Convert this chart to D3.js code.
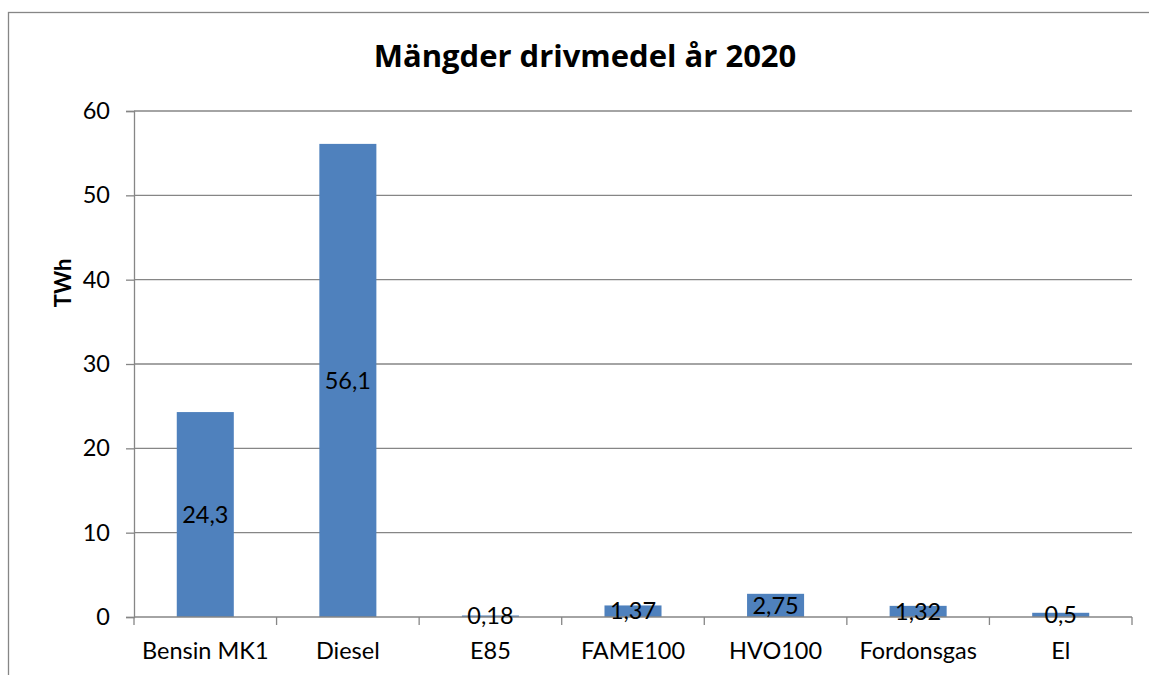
<!DOCTYPE html>
<html>
<head>
<meta charset="utf-8">
<script src="https://cdn.jsdelivr.net/npm/d3@7"></script>
<style>
  body { margin: 0; background: #fff; }
  text { font-family: Lato, "Open Sans", sans-serif; fill: #000; }
</style>
</head>
<body>
<div id="chart"></div>
<script>
// chart data
var categories = ["Bensin MK1", "Diesel", "E85", "FAME100", "HVO100", "Fordonsgas", "El"];
var values = [24.3, 56.1, 0.18, 1.37, 2.75, 1.32, 0.5];
var yTicks = [0, 10, 20, 30, 40, 50, 60];

var svgWidth = 1149;
var svgHeight = 675;

var margin = {
  top: 111,
  right: 17,
  bottom: 58,
  left: 134
};

var width = svgWidth - margin.left - margin.right;
var height = svgHeight - margin.top - margin.bottom;
var labelSize = "23.5px";

var svg = d3
  .select("#chart")
  .append("svg")
  .attr("width", svgWidth)
  .attr("height", svgHeight);

// outer chart border (runs off the right and bottom edge)
svg.append("rect")
  .attr("x", 8.5)
  .attr("y", 12.5)
  .attr("width", 1200)
  .attr("height", 700)
  .attr("fill", "none")
  .attr("stroke", "#868686")
  .attr("stroke-width", 1.3);

// title
svg.append("text")
  .attr("x", 585)
  .attr("y", 67)
  .attr("text-anchor", "middle")
  .style("font-family", "'Open Sans', sans-serif")
  .style("font-size", "31px")
  .style("font-weight", "bold")
  .text("Mängder drivmedel år 2020");

var chartGroup = svg.append("g")
  .attr("transform", `translate(${margin.left}, ${margin.top})`);

// scales
var xBandScale = d3.scaleBand()
  .domain(categories)
  .range([0, width])
  .paddingInner(0.6)
  .paddingOuter(0.3);

var yLinearScale = d3.scaleLinear()
  .domain([0, 60])
  .range([height, 0]);

// gridlines
chartGroup.append("g")
  .selectAll("line")
  .data(yTicks.filter(d => d > 0))
  .enter()
  .append("line")
  .attr("x1", 0)
  .attr("x2", width)
  .attr("y1", d => yLinearScale(d))
  .attr("y2", d => yLinearScale(d))
  .attr("stroke", "#868686")
  .attr("stroke-width", 1.3);

// bars
chartGroup.selectAll("rect")
  .data(values)
  .enter()
  .append("rect")
  .attr("x", (d, i) => xBandScale(categories[i]))
  .attr("y", d => yLinearScale(d))
  .attr("width", xBandScale.bandwidth())
  .attr("height", d => height - yLinearScale(d))
  .attr("fill", "#4f81bd");

// left axis
var leftAxis = d3.axisLeft(yLinearScale)
  .tickValues(yTicks)
  .tickSize(8)
  .tickPadding(16);

var yAxis = chartGroup.append("g").call(leftAxis);
yAxis.select(".domain").attr("stroke", "#868686").attr("stroke-width", 1.3);
yAxis.selectAll(".tick line").attr("stroke", "#868686").attr("stroke-width", 1.3);
yAxis.selectAll(".tick text")
  .style("font-size", labelSize)
  .style("font-family", "Lato, 'Open Sans', sans-serif")
  .attr("fill", "#000");

// bottom axis - ticks sit between categories
var step = width / categories.length;
var xAxisGroup = chartGroup.append("g")
  .attr("transform", `translate(0, ${height})`);

xAxisGroup.append("line")
  .attr("x1", 0)
  .attr("x2", width)
  .attr("stroke", "#868686")
  .attr("stroke-width", 1.3);

xAxisGroup.selectAll(".xtick")
  .data(d3.range(categories.length + 1))
  .enter()
  .append("line")
  .attr("class", "xtick")
  .attr("x1", d => d * step)
  .attr("x2", d => d * step)
  .attr("y1", 0)
  .attr("y2", 8)
  .attr("stroke", "#868686")
  .attr("stroke-width", 1.3);

xAxisGroup.selectAll(".xlabel")
  .data(categories)
  .enter()
  .append("text")
  .attr("class", "xlabel")
  .attr("x", d => xBandScale(d) + xBandScale.bandwidth() / 2)
  .attr("y", 42)
  .attr("text-anchor", "middle")
  .style("font-size", labelSize)
  .text(d => d);

// value labels, centered in each bar
chartGroup.selectAll(".vlabel")
  .data(values)
  .enter()
  .append("text")
  .attr("class", "vlabel")
  .attr("x", (d, i) => xBandScale(categories[i]) + xBandScale.bandwidth() / 2)
  .attr("y", d => (yLinearScale(d) + height) / 2)
  .attr("dy", "0.35em")
  .attr("text-anchor", "middle")
  .style("font-size", labelSize)
  .text(d => String(d).replace(".", ","));

// y axis title
svg.append("text")
  .attr("transform", "rotate(-90)")
  .attr("x", -283)
  .attr("y", 71)
  .attr("text-anchor", "middle")
  .style("font-size", "22px")
  .style("font-weight", "bold")
  .text("TWh");
</script>
</body>
</html>
